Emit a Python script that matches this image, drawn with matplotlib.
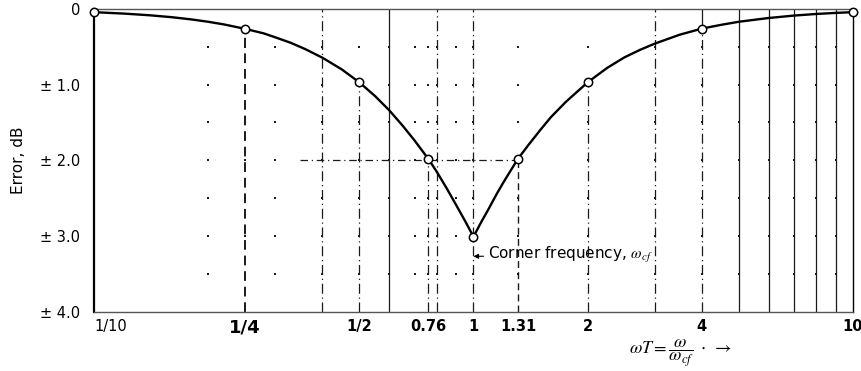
import matplotlib
matplotlib.use('Agg')
import matplotlib.pyplot as plt

plt.rcParams['font.family'] = ['Liberation Sans Narrow', 'DejaVu Sans']
plt.rcParams['mathtext.fontset'] = 'stix'

# error of the straight-line asymptote
wt = [0.1, 0.12, 0.14, 0.16, 0.18, 0.2, 0.22, 0.25, 0.28, 0.3, 0.33, 0.36, 0.4,
      0.45, 0.5, 0.55, 0.6, 0.65, 0.7, 0.76, 0.8, 0.85, 0.9, 0.95, 1.0, 1.05,
      1.1, 1.15, 1.2, 1.31, 1.4, 1.5, 1.6, 1.75, 2.0, 2.25, 2.5, 2.75, 3.0, 3.5,
      4.0, 4.5, 5.0, 6.0, 7.0, 8.0, 9.0, 10.0]
err = [-0.043, -0.062, -0.084, -0.109, -0.138, -0.170, -0.205, -0.263, -0.323,
       -0.374, -0.448, -0.530, -0.645, -0.800, -0.969, -1.15, -1.34, -1.54, -1.74,
       -1.98, -2.15, -2.37, -2.59, -2.80, -3.01, -2.81, -2.63, -2.45, -2.29, -1.98,
       -1.79, -1.60, -1.43, -1.23, -0.97, -0.78, -0.64, -0.54, -0.46, -0.34, -0.26,
       -0.21, -0.17, -0.12, -0.088, -0.067, -0.053, -0.043]

# marked points (open circles)
pt_x = [0.1, 0.25, 0.5, 0.76, 1.0, 1.31, 2.0, 4.0, 10.0]
pt_y = [-0.04, -0.26, -0.97, -1.98, -3.01, -1.98, -0.97, -0.26, -0.04]

tick_x = [0.1, 0.25, 0.5, 0.76, 1.0, 1.31, 2.0, 4.0, 10.0]
tick_x_labels = ['1/10', '1/4', '1/2', '0.76', '1', '1.31', '2', '4', '10']
tick_y = [0, -1, -2, -3, -4]
tick_y_labels = ['0', '± 1.0', '± 2.0', '± 3.0', '± 4.0']

# chart-paper rulings
dotted_x = [0.2, 0.3, 0.7, 0.9]
dashdot_x = [0.4, 0.8, 1.0, 3.0]
solid_x = [0.6, 5.0, 6.0, 7.0, 8.0, 9.0]
drop_x = [0.25, 0.5, 0.76, 1.31, 2.0, 4.0]
drop_y = [-0.26, -0.97, -1.98, -1.98, -0.97, -0.26]
level_y = [-0.5, -1.0, -1.5, -2.0, -2.5, -3.0, -3.5]

fig = plt.figure(figsize=(8.62, 3.71), dpi=100)
ax = fig.add_axes([0.109, 0.160, 0.8805, 0.816])
ax.set_xscale('log')
ax.set_xlim(0.1, 10)
ax.set_ylim(-4, 0)

lc = '#1a1a1a'
dd = (0, (8, 3, 1, 3))
for x in dashdot_x:
    ax.axvline(x, color=lc, lw=0.9, ls=dd, zorder=1)
for x in solid_x:
    ax.axvline(x, color=lc, lw=0.9, zorder=1)
# 4: solid above the circle
ax.vlines(4.0, -0.26, 0, color=lc, lw=0.9, zorder=1)
for x, y in zip(drop_x, drop_y):
    if x in (0.25, 1.31):
        ax.vlines(x, -4, y, color=lc, lw=1.4 if x == 0.25 else 1.0,
                  ls=(0, (5, 3)), zorder=1)
    else:
        ax.vlines(x, -4, y, color=lc, lw=0.9, ls=dd, zorder=1)

# dots where the rulings cross
all_x = dotted_x + dashdot_x + solid_x + drop_x
dx = [x for x in all_x for _ in level_y]
dy = [y for _ in all_x for y in level_y]
ax.scatter(dx, dy, s=2, color=lc, marker='s', lw=0, zorder=1)

# horizontal dashed line at -2
ax.hlines(-2.0, 0.35, 1.31, color=lc, lw=0.9, ls=(0, (6, 3, 1, 3)), zorder=1)

ax.plot(wt, err, color='black', lw=1.7, zorder=3)
ax.plot(pt_x, pt_y, ls='none', marker='o', ms=6, mfc='white', mec='black',
        mew=1.1, zorder=4, clip_on=False)

for s in ['top', 'bottom']:
    ax.spines[s].set_color('#555555')
    ax.spines[s].set_linewidth(1.0)
ax.spines['left'].set_linewidth(1.6)
ax.spines['right'].set_linewidth(1.0)

ax.set_xticks(tick_x)
ax.set_xticklabels(tick_x_labels)
ax.minorticks_off()
ax.set_yticks(tick_y)
ax.set_yticklabels(tick_y_labels)
ax.tick_params(axis='both', length=0, labelsize=10.5)
ax.tick_params(axis='x', pad=5)
ax.tick_params(axis='y', pad=10)
xl = ax.get_xticklabels()
xl[0].set_ha('left')
xl[1].set_fontsize(13)
xl[1].set_fontweight('bold')
for t in xl[2:]:
    t.set_fontweight('bold')

ax.set_ylabel('Error, dB', fontsize=11, labelpad=10)

ax.annotate(r'Corner frequency, $\omega_{cf}$', xy=(1.0, -3.27), xytext=(1.09, -3.25),
            fontsize=11, va='center',
            arrowprops=dict(arrowstyle='-|>', color='black', lw=0.8,
                            mutation_scale=7, shrinkA=1, shrinkB=0))

fig.text(0.73, 0.048, r'$\omega T = \dfrac{\omega}{\omega_{cf}}\ \cdot\ \rightarrow$',
         fontsize=13, ha='left', va='center')

fig.savefig('out.png', dpi=100)
